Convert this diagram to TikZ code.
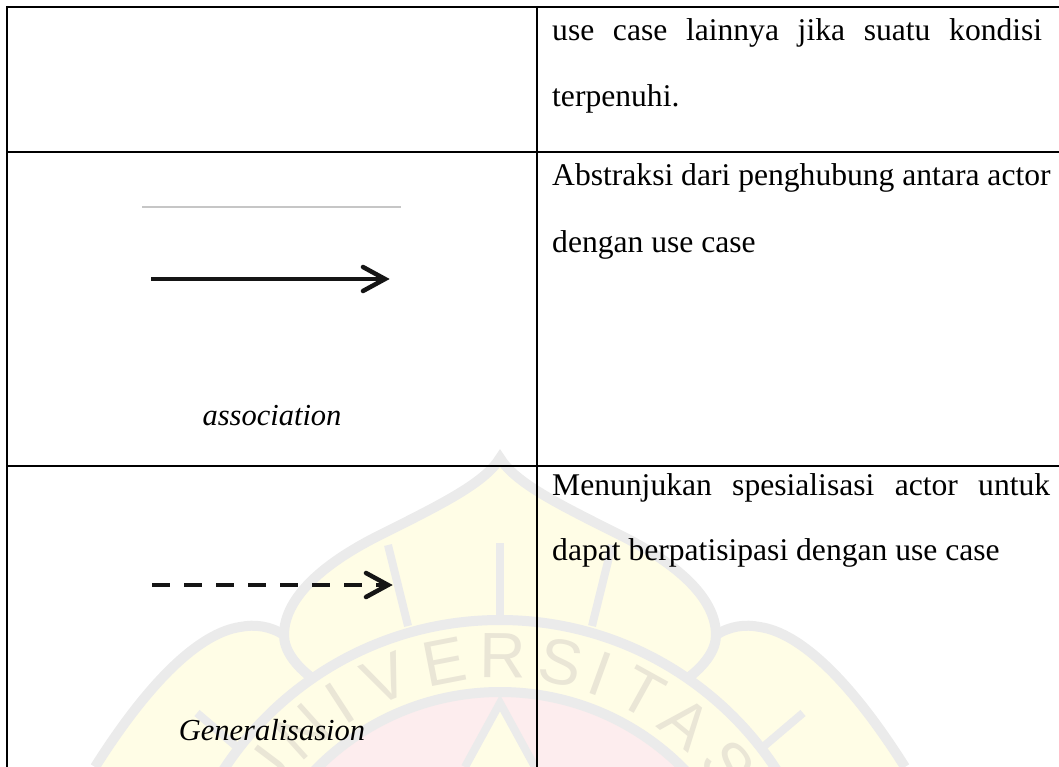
\documentclass[tikz,border=0pt]{standalone}
\usepackage{fontspec}
\setmainfont{Liberation Serif}
\newfontfamily\wmfont{Liberation Sans}
\usetikzlibrary{calc}
\definecolor{wmband}{HTML}{EBEBEB}
\definecolor{wmyellow}{HTML}{FFFDE6}
\definecolor{wmpink}{HTML}{FDEDEE}
\definecolor{wmletter}{HTML}{EAE6D6}
\definecolor{ink}{HTML}{151515}

\begin{document}
\begin{tikzpicture}[x=1pt,y=-1pt,
  hrule/.style={line width=2.8pt},
  vrule/.style={line width=2pt},
  body/.style={anchor=base west,inner sep=0pt,font=\fontsize{31.6}{40}\selectfont},
  caption/.style={anchor=base,inner sep=0pt,font=\fontsize{30.5}{36}\selectfont\itshape},
  shaft/.style={draw=ink,line width=4.5pt},
  barb/.style={draw=ink,line width=4.5pt,line cap=round,line join=miter},
  band/.style={draw=wmband,line width=10pt},
  thinband/.style={draw=wmband,line width=8pt},
  wmchar/.style={text=wmletter,font=\fontsize{64}{64}\wmfont,inner sep=0pt,anchor=center}
]
\useasboundingbox (0,0) rectangle (1059,767);

% ---------- faded emblem behind the table ----------
\begin{scope}
\clip (0,0) rectangle (1059,767);
% petals
\fill[wmyellow] (716,635) .. controls (730,626) and (745,624) .. (760,627)
  .. controls (800,633) and (850,680) .. (905,767) -- (690,767) -- cycle;
\fill[wmyellow] (284,635) .. controls (270,626) and (255,624) .. (240,627)
  .. controls (200,633) and (150,680) .. (95,767) -- (310,767) -- cycle;
% central dome
\fill[wmyellow] (500,458) .. controls (515,483) and (560,505) .. (620,535)
  .. controls (690,570) and (716,605) .. (716,635) -- (716,700) -- (284,700) -- (284,635)
  .. controls (284,605) and (310,570) .. (380,535)
  .. controls (440,505) and (485,483) .. (500,458) -- cycle;
% ring and inner disc
\fill[wmyellow] (500,950) circle (330);
\fill[wmpink] (500,950) circle (258);
\fill[wmyellow] (500,703) -- (535,767) -- (465,767) -- cycle;
% outlines
\draw[band] (716,635) .. controls (730,626) and (745,624) .. (760,627)
  .. controls (800,633) and (850,680) .. (905,767);
\draw[band] (284,635) .. controls (270,626) and (255,624) .. (240,627)
  .. controls (200,633) and (150,680) .. (95,767);
\draw[band] (688,678) .. controls (705,665) and (716,650) .. (716,635)
  .. controls (716,605) and (690,570) .. (620,535)
  .. controls (560,505) and (515,483) .. (500,458)
  .. controls (485,483) and (440,505) .. (380,535)
  .. controls (310,570) and (284,605) .. (284,635)
  .. controls (284,650) and (295,665) .. (312,678);
\draw[band] (500,950) circle (330);
\draw[band] (500,950) circle (258);
\draw[thinband] (465,767) -- (500,703) -- (535,767);
\draw[thinband] (500,543) -- (500,622);
\draw[thinband] (388,545) -- (408,626);
\draw[thinband] (612,545) -- (592,626);
\draw[thinband] (763,747) -- (803,713);
\draw[thinband] (237,747) -- (197,713);
% lettering on the ring
\foreach \a/\l in {143/U,132/N,123/I,113/V,101/E,89.4/R,78/S,70/I,61/T,50.7/A,39/S}
  \node[wmchar,rotate=\a-90] at ({500+294*cos(\a)},{950-294*sin(\a)}) {\l};
\end{scope}

% ---------- table rules ----------
\draw[line width=2pt] (6,7) -- (1059,7);
\draw[hrule] (6,152) -- (1059,152);
\draw[hrule] (6,466) -- (1059,466);
\draw[vrule] (7,6) -- (7,767);
\draw[vrule] (537,6) -- (537,767);

% ---------- row 1 ----------
\node[body] (r1a) at (552,41) {\makebox[490pt][s]{use case lainnya jika suatu kondisi}};
\node[body] (r1b) at (552,107) {terpenuhi.};

% ---------- row 2: association ----------
\coordinate (gS) at (142,207);
\coordinate (gE) at (401,207);
\draw[draw=gray!45,line width=1.3pt] (gS) -- (gE);
\coordinate (aS) at (151,279);
\coordinate (aE) at (385,279);
\draw[shaft] (aS) -- ($(aE)+(-3,0)$);
\draw[barb] ($(aE)+(-22,-12)$) -- (aE) -- ($(aE)+(-22,12)$);
\node[caption] (assoc) at (272,425) {association};
\node[body] (r2a) at (552,186) {Abstraksi dari penghubung antara actor};
\node[body] (r2b) at (552,252) {dengan use case};

% ---------- row 3: generalisation ----------
\coordinate (dS) at (152,585);
\coordinate (dE) at (388,585);
\draw[shaft,dash pattern=on 18pt off 14pt] (dS) -- ($(dE)+(-3,0)$);
\draw[barb] ($(dE)+(-22,-12)$) -- (dE) -- ($(dE)+(-22,12)$);
\node[caption] (gen) at (272,740) {Generalisasion};
\node[body] (r3a) at (552,495) {\makebox[498pt][s]{Menunjukan spesialisasi actor untuk}};
\node[body] (r3b) at (552,560) {dapat berpatisipasi dengan use case};
\end{tikzpicture}
\end{document}
